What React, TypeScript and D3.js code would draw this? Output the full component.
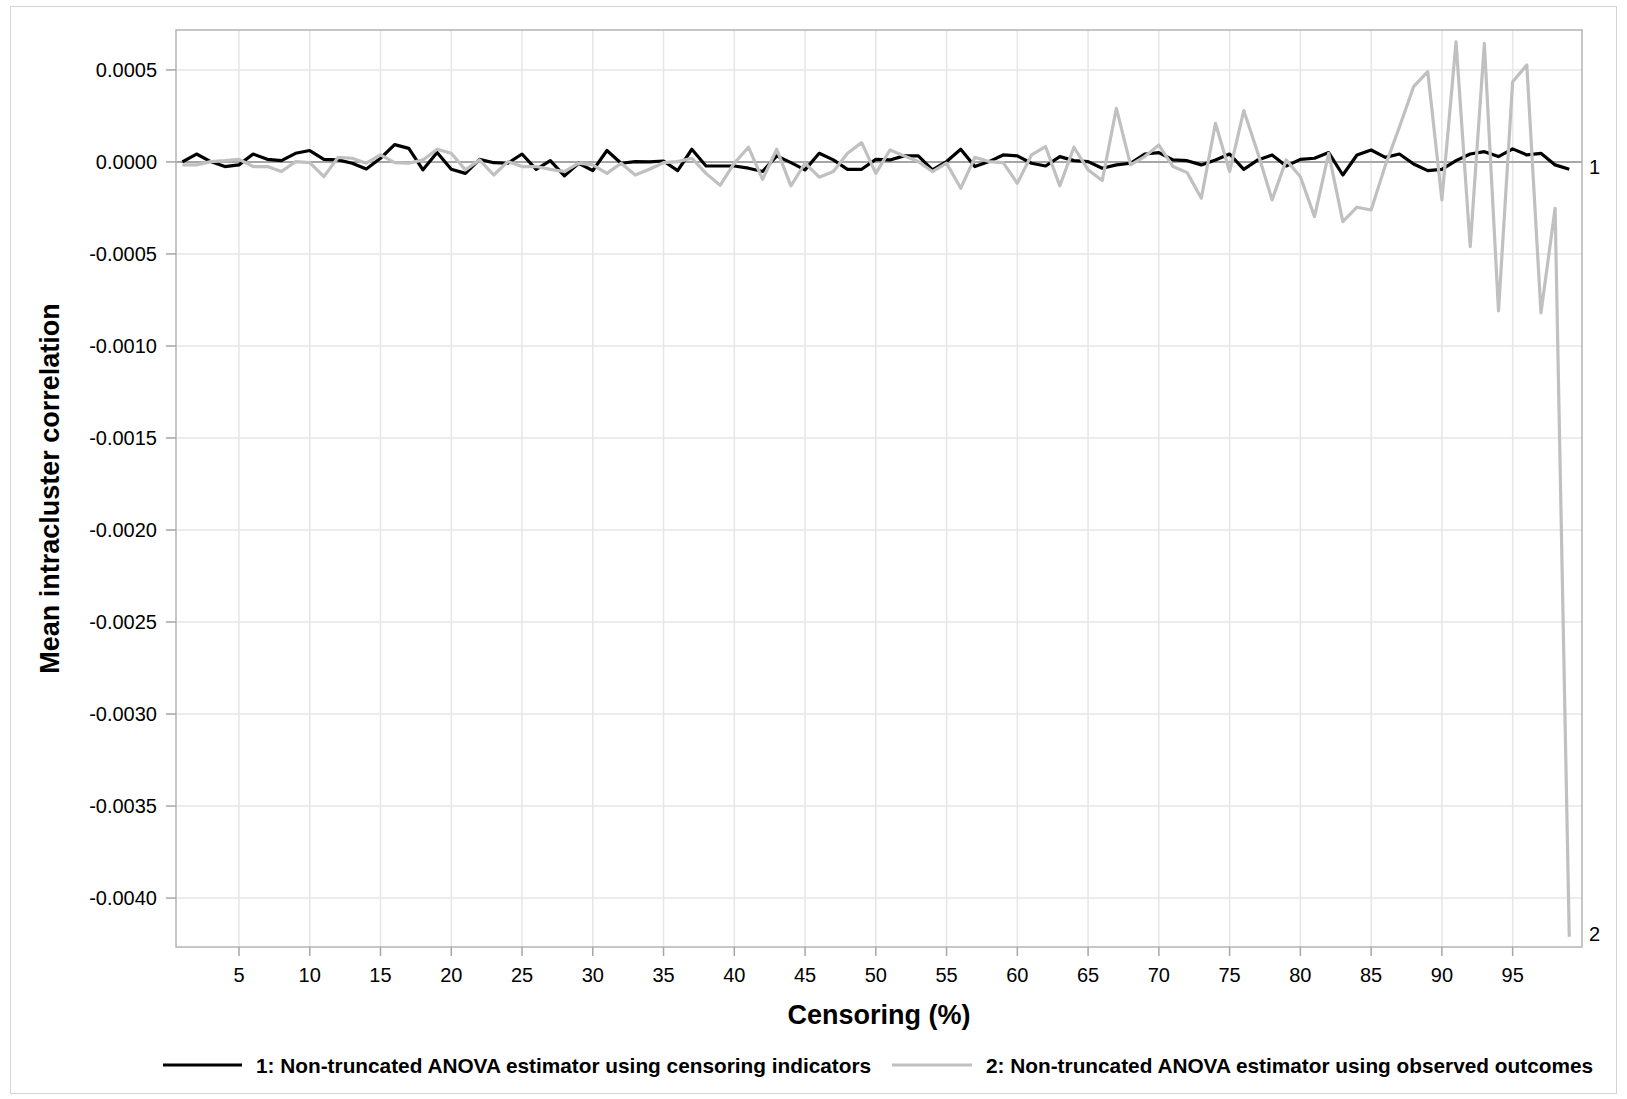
import React from "react";
import * as d3 from "d3";

const censoring: number[] = [
  1, 2, 3, 4, 5, 6, 7, 8, 9, 10, 11, 12, 13, 14, 15, 16, 17, 18, 19, 20,
  21, 22, 23, 24, 25, 26, 27, 28, 29, 30, 31, 32, 33, 34, 35, 36, 37, 38, 39, 40,
  41, 42, 43, 44, 45, 46, 47, 48, 49, 50, 51, 52, 53, 54, 55, 56, 57, 58, 59, 60,
  61, 62, 63, 64, 65, 66, 67, 68, 69, 70, 71, 72, 73, 74, 75, 76, 77, 78, 79, 80,
  81, 82, 83, 84, 85, 86, 87, 88, 89, 90, 91, 92, 93, 94, 95, 96, 97, 98, 99,
];

// values in units of 1e-5
const series1: number[] = [
  0, 4.3, 0.2, -2.5, -1.6, 4.3, 1.4, 0.7, 4.7, 6.2,
  1.4, 1.1, -0.7, -3.8, 2.0, 9.4, 7.4, -4.3, 5.1, -4.0,
  -6.2, 1.4, -0.4, -0.7, 4.3, -4.0, 0.7, -7.6, -0.7, -4.7,
  6.2, -0.7, 0.2, 0, 0.5, -4.7, 6.9, -2.2, -2.2, -2.2,
  -3.4, -5.2, 3.3, -0.4, -4.3, 4.7, 1.1, -4.0, -4.0, 1.4,
  1.1, 3.3, 3.3, -4.3, 0.2, 6.9, -2.5, 0.2, 3.8, 3.3,
  -0.7, -2.2, 2.9, 0.7, 0.2, -3.4, -1.6, -0.7, 4.3, 5.1,
  1.1, 0.7, -1.6, 1.1, 4.3, -4.0, 1.1, 3.8, -2.2, 1.4,
  2.0, 5.1, -7.1, 3.8, 6.5, 2.5, 4.3, -1.1, -4.7, -4.0,
  0.7, 4.3, 5.6, 2.9, 7.1, 3.8, 4.7, -1.6, -4.0,
];

const series2: number[] = [
  -1.6, -1.6, 0.2, 0.7, 1.4, -2.5, -2.5, -5.2, 0.2, -0.4,
  -8.0, 2.5, 2.0, -0.7, 3.8, -0.4, -0.7, 1.1, 6.9, 4.7,
  -4.3, 1.1, -7.1, 0.2, -2.5, -2.5, -4.0, -5.2, -0.7, -1.6,
  -6.2, -0.7, -7.1, -4.0, -0.4, 0.2, 2.0, -6.2, -12.7, -0.7,
  8.0, -9.4, 6.9, -13.0, -0.7, -8.3, -5.2, 4.7, 10.5, -6.2,
  6.5, 3.3, 0.2, -5.2, -0.7, -14.3, 2.5, 0.2, -0.4, -11.6,
  3.8, 8.3, -13.0, 8.0, -4.3, -10.1, 29.1, -1.6, 2.9, 9.2,
  -2.5, -5.8, -19.7, 21.0, -5.2, 27.9, 4.7, -20.6, 1.1, -8.0,
  -29.7, 4.7, -32.4, -24.6, -26.1, -2.0, 19.0, 40.9, 49.1, -20.6,
  65.3, -46.0, 64.4, -81.0, 43.6, 52.7, -82.0, -25.2, -421.0,
];

const xTicks: number[] = [5, 10, 15, 20, 25, 30, 35, 40, 45, 50, 55, 60, 65, 70, 75, 80, 85, 90, 95];
const yTicks: number[] = [0.0005, 0, -0.0005, -0.001, -0.0015, -0.002, -0.0025, -0.003, -0.0035, -0.004];

const seriesNames: string[] = [
  "1: Non-truncated ANOVA estimator using censoring indicators",
  "2: Non-truncated ANOVA estimator using observed outcomes",
];
const curveLabels: string[] = ["1", "2"];
const xTitle = "Censoring (%)";
const yTitle = "Mean intracluster correlation";

const W = 1627;
const H = 1099;
const L = 176, R = 1582, T = 30, B = 947;
const FONT = "'Liberation Sans', Arial, Helvetica, sans-serif";

export default function App() {
  const x = d3.scaleLinear().domain([0.55, 99.9]).range([L, R]);
  const y = d3.scaleLinear().domain([-0.004266, 0.000717]).range([B, T]);

  const d1 = censoring.map((c, i) => [c, series1[i] * 1e-5] as [number, number]);
  const d2 = censoring.map((c, i) => [c, series2[i] * 1e-5] as [number, number]);
  const line = d3
    .line<[number, number]>()
    .x((d) => x(d[0]))
    .y((d) => y(d[1]));

  const last1 = d1[d1.length - 1];
  const last2 = d2[d2.length - 1];

  return (
    <svg
      width={W}
      height={H}
      style={{ position: "absolute", left: 0, top: 0, background: "#fff" }}
      fontFamily={FONT}
    >
      <rect x={10.5} y={6.5} width={1606} height={1087} fill="#fff" stroke="#d4d4d4" strokeWidth={1} />
      {/* grid */}
      {xTicks.map((t) => (
        <line key={"gx" + t} x1={x(t)} x2={x(t)} y1={T} y2={B} stroke="#e6e6e6" strokeWidth={1.5} />
      ))}
      {yTicks.map((t) => (
        <line key={"gy" + t} x1={L} x2={R} y1={y(t)} y2={y(t)} stroke="#e6e6e6" strokeWidth={1.5} />
      ))}
      {/* reference line at zero */}
      <line x1={L} x2={R} y1={y(0)} y2={y(0)} stroke="#a6a6a6" strokeWidth={2} />
      {/* frame */}
      <rect x={L} y={T} width={R - L} height={B - T} fill="none" stroke="#b4b4b4" strokeWidth={1.5} />
      {/* ticks */}
      {yTicks.map((t) => (
        <g key={"ty" + t}>
          <line x1={L - 10} x2={L} y1={y(t)} y2={y(t)} stroke="#a6a6a6" strokeWidth={1.5} />
          <text x={157} y={y(t)} dy="0.36em" textAnchor="end" fontSize={20} fill="#000">
            {d3.format(".4f")(t).replace("−", "-")}
          </text>
        </g>
      ))}
      {xTicks.map((t) => (
        <g key={"tx" + t}>
          <line x1={x(t)} x2={x(t)} y1={B} y2={B + 9} stroke="#a6a6a6" strokeWidth={1.5} />
          <text x={x(t)} y={982} textAnchor="middle" fontSize={20} fill="#000">
            {t}
          </text>
        </g>
      ))}
      {/* data lines */}
      <path d={line(d1) || ""} fill="none" stroke="#000" strokeWidth={3.2} strokeLinejoin="round" />
      <path d={line(d2) || ""} fill="none" stroke="#c0c0c0" strokeWidth={3.2} strokeLinejoin="round" />
      {/* curve labels */}
      <text x={1589} y={y(last1[1])} dy="0.22em" fontSize={20} fill="#000">
        {curveLabels[0]}
      </text>
      <text x={1589} y={y(last2[1])} dy="0.22em" fontSize={20} fill="#000">
        {curveLabels[1]}
      </text>
      {/* axis titles */}
      <text x={(L + R) / 2} y={1024} textAnchor="middle" fontSize={27} fontWeight="bold" fill="#000">
        {xTitle}
      </text>
      <text
        transform={`translate(59, ${(T + B) / 2}) rotate(-90)`}
        textAnchor="middle"
        fontSize={27}
        fontWeight="bold"
        fill="#000"
      >
        {yTitle}
      </text>
      {/* legend */}
      <line x1={163} x2={242} y1={1065} y2={1065} stroke="#000" strokeWidth={3} />
      <text x={256} y={1073} fontSize={20.8} fontWeight="bold" fill="#000">
        {seriesNames[0]}
      </text>
      <line x1={892} x2={972} y1={1065} y2={1065} stroke="#c0c0c0" strokeWidth={3} />
      <text x={986} y={1073} fontSize={20.8} fontWeight="bold" fill="#000">
        {seriesNames[1]}
      </text>
    </svg>
  );
}
